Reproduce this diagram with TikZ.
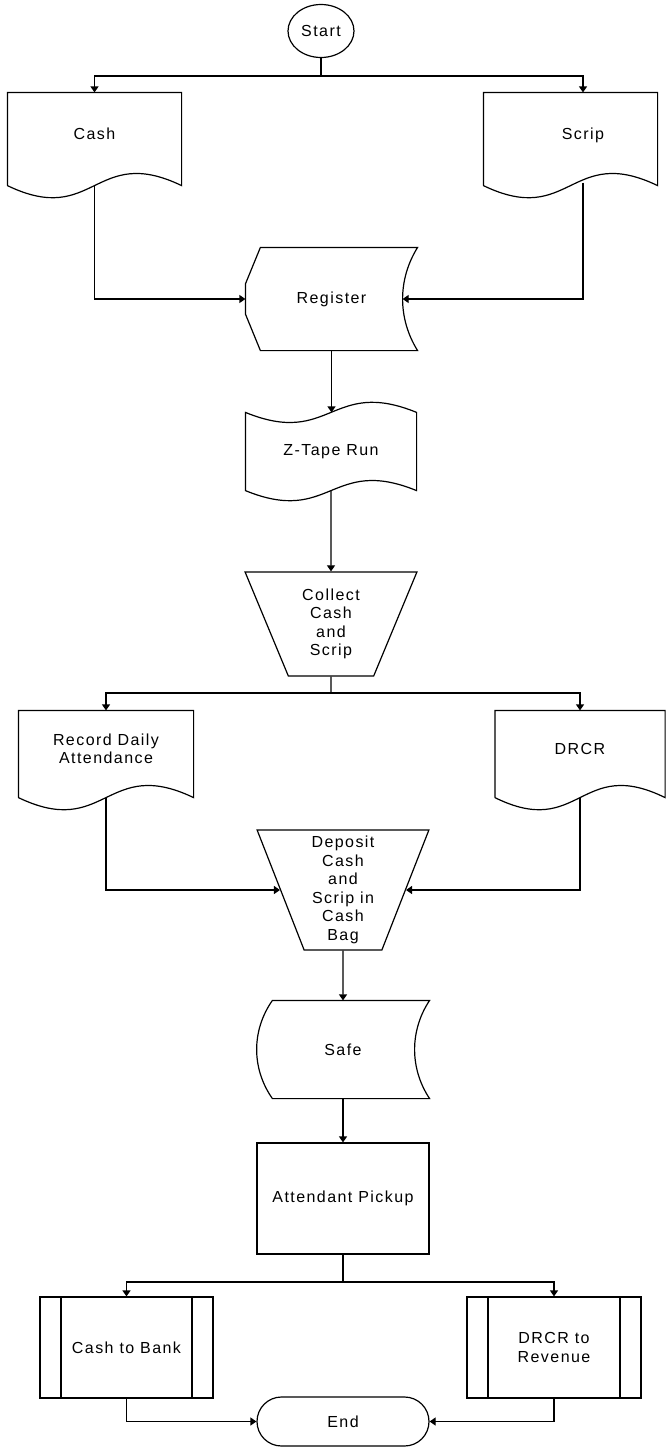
\documentclass[tikz,border=0pt]{standalone}
\usepackage{fontspec}
\setmainfont{Liberation Sans}[LetterSpace=9]
\usetikzlibrary{arrows.meta,calc,shapes.geometric,shapes.misc}

\begin{document}
\begin{tikzpicture}[x=1pt, y=-1pt, line width=1.2pt,
    font=\fontsize{16}{18.5}\selectfont]
\tikzset{box/.style={minimum width=172, minimum height=100, inner sep=0pt, align=center},
    doc/.style={box, text depth=11pt},
    arr/.style={-{Triangle[length=6pt,width=8pt]}},
    manual/.style={box, draw, trapezium, shape border rotate=180, trapezium stretches=true},
    predef/.style={box, draw, path picture={
        \draw ([xshift=21pt]path picture bounding box.north west) -- ([xshift=21pt]path picture bounding box.south west);
        \draw ([xshift=-21pt]path picture bounding box.north east) -- ([xshift=-21pt]path picture bounding box.south east);}}}

\useasboundingbox (0,0) rectangle (665,1448);

\node[draw, ellipse, minimum width=66, minimum height=53, inner sep=0pt] (start) at (321,31) {Start};
\coordinate (j1) at (321,76);

% documents coming in
\node[doc, minimum width=173, minimum height=92] (cash) at (94.5,139) {Cash};
\node[doc, minimum width=173, minimum height=92] (scrip) at (583,139) {Scrip};

\node[box, minimum width=171, minimum height=102] (reg) at (331.5,299) {Register};
\draw ([xshift=15pt]reg.north west) -- (reg.north east)
    .. controls ($(reg.north east)+(-20,32)$) and ($(reg.south east)+(-20,-32)$) .. (reg.south east)
    -- ([xshift=15pt]reg.south west) -- ($(reg.west)+(0,15)$) -- ($(reg.west)+(0,-15)$) -- cycle;

\node[box, minimum width=170, minimum height=77] (ztape) at (331,451.5) {Z-Tape Run};
\draw (ztape.north west) .. controls ($(ztape.north)+(0,35)$) and ($(ztape.north)+(0,-35)$) .. (ztape.north east)
    -- (ztape.south east) .. controls ($(ztape.south)+(0,-35)$) and ($(ztape.south)+(0,35)$) .. (ztape.south west) -- cycle;

\node[manual, trapezium angle=67.5, minimum width=172, minimum height=104] (collect) at (331,624)
    {Collect\\Cash\\and\\Scrip};
\coordinate (j2) at (331,693);

% documents going out
\node[doc, minimum width=174, minimum height=86] (rda) at (106,754) {Record Daily\\Attendance};
\node[doc, minimum width=169, minimum height=86] (drcr) at (580,754) {DRCR};

% scrip sheet sits a bit left of its text
\foreach \n/\s in {cash/0,scrip/-12.5,rda/0,drcr/0}
    \draw ([xshift=\s]\n.south west) -- ([xshift=\s]\n.north west) -- ([xshift=\s]\n.north east)
        -- ([xshift=\s]\n.south east)
        .. controls ($(\n.south)+(\s,-42)$) and ($(\n.south)+(\s,42)$) .. ([xshift=\s]\n.south west);

\node[manual, trapezium angle=70.5, minimum width=172, minimum height=120] (deposit) at (343,890)
    {Deposit\\Cash\\and\\Scrip in\\Cash\\Bag};

\node[box, minimum width=172, minimum height=97] (safe) at (343,1049.5) {Safe};
\draw ([xshift=16pt]safe.north west) -- (safe.north east)
    .. controls ($(safe.north east)+(-20,30)$) and ($(safe.south east)+(-20,-30)$) .. (safe.south east)
    -- ([xshift=16pt]safe.south west)
    .. controls ($(safe.south west)+(-5,-30)$) and ($(safe.north west)+(-5,30)$) .. cycle;

\node[box, draw, minimum width=172, minimum height=111] (pickup) at (343,1198.5) {Attendant Pickup};
\coordinate (j3) at (343,1282);

\node[predef, minimum width=173, minimum height=101] (bank) at (126.5,1347.5) {Cash to Bank};
\node[predef, minimum width=174, minimum height=101] (revenue) at (554,1347.5) {DRCR to\\Revenue};
\node[draw, rounded rectangle, minimum width=172, minimum height=49, inner sep=0pt] (stop) at (343,1421.5) {End};

% connectors
\draw (start.south) -- (j1);
\draw[arr] (j1) -| (cash.north);
\draw[arr] (j1) -| (scrip.north);
\draw[arr] (cash.south) |- (reg.west);
\draw[arr] ([yshift=3pt]scrip.south) |- ([xshift=-15pt]reg.east);
\draw[arr] (reg.south) -- (reg.south |- ztape.north);
\draw[arr] (ztape.south) -- (collect.north);
\draw (collect.south) -- (j2);
\draw[arr] (j2) -| (rda.north);
\draw[arr] (j2) -| (drcr.north);
\draw[arr] (rda.south) |- (deposit.west);
\draw[arr] (drcr.south) |- (deposit.east);
\draw[arr] (deposit.south) -- (safe.north);
\draw[arr] (safe.south) -- (pickup.north);
\draw (pickup.south) -- (j3);
\draw[arr] (j3) -| (bank.north);
\draw[arr] (j3) -| (revenue.north);
\draw[arr] (bank.south) |- (stop.west);
\draw[arr] (revenue.south) |- (stop.east);

\end{tikzpicture}
\end{document}
